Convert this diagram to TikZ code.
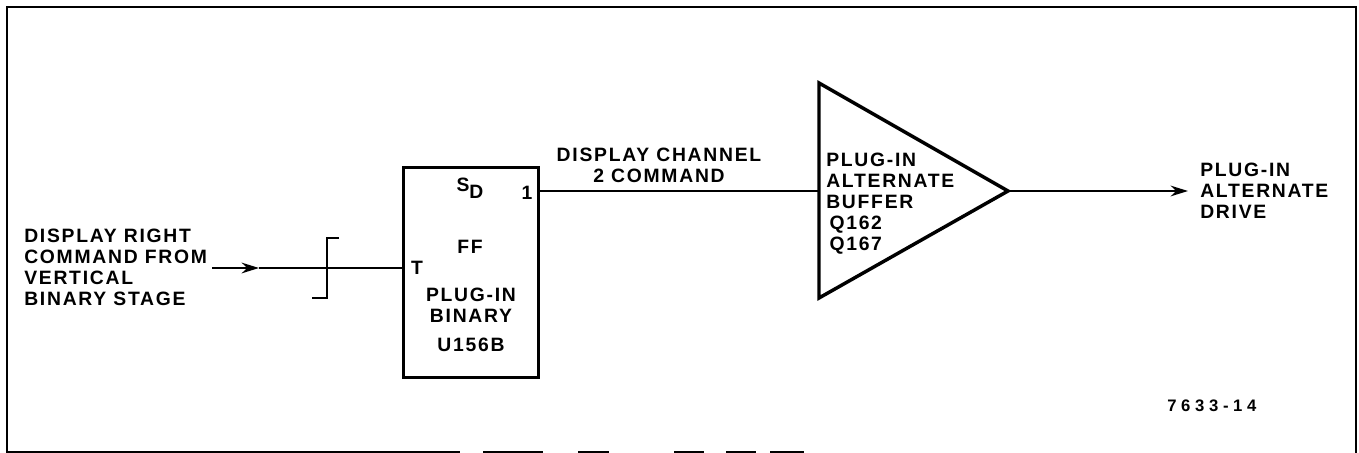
\documentclass[tikz,border=0pt]{standalone}
\usepackage{fontspec}
\setmainfont[LetterSpace=9]{Liberation Sans}
\usetikzlibrary{positioning,arrows.meta,calc}
\newlength{\pxu}
\setlength{\pxu}{0.75pt}
\tikzset{
  bloc/.style     = {draw, line width=2.2pt, minimum width=135\pxu, minimum height=210\pxu},
  eticheta/.style = {font=\fontsize{14.5}{15.75}\selectfont\bfseries, inner sep=0pt, align=left},
  sageata/.style  = {-{Stealth[length=13pt,width=8pt]}, line width=1.7pt},
  fir/.style      = {line width=1.7pt},
  cadru/.style    = {line width=1.5pt},
  triunghi/.style = {line width=2.6pt, line join=miter}
}
\begin{document}
\begin{tikzpicture}[x=0.75pt,y=-0.75pt]
    \useasboundingbox (0,0) rectangle (1359,453);
    \draw[cadru] (7,453) -- (7,7) -- (1356,7) -- (1356,453);
    \draw[cadru] (7,452) -- (460,452) (483,452) -- (543,452) (578,452) -- (609,452)
        (674,452) -- (704,452) (726,452) -- (756,452) (770,452) -- (804,452);

    \node[bloc, anchor=north west] (ff) at (402,166) {};
    \coordinate (bufsus) at (819,83);
    \coordinate (bufjos) at (819,298);
    \coordinate (buftip) at (1008,191);
    \coordinate (bufin) at (819,191);
    \coordinate (start) at (212,268);
    \coordinate (mijloc) at (259,268);
    \coordinate (end) at (1188,191);
    \draw[triunghi] (bufsus) -- (buftip) -- (bufjos) -- cycle;

    \draw[sageata] (start) -- (mijloc);
    \draw[fir] (mijloc) -- (ff.west |- mijloc);
    \draw[fir] (ff.east |- bufin) -- (bufin);
    \draw[sageata] (buftip) -- (end);
    \draw[fir, line width=1.9pt] (339,238) -- (327,238) -- (327,298) -- (312,298);

    \node[eticheta, anchor=west] (intrare) at (24,267) {DISPLAY RIGHT\\COMMAND FROM\\VERTICAL\\BINARY STAGE};
    \node[eticheta] (t) at (417,268) {T};
    \node[eticheta] (sd) at (470,188) {S\raisebox{-5pt}{D}};
    \node[eticheta] (unu) at (527,193) {1};
    \node[eticheta] (ffl) at (470,247) {FF};
    \node[eticheta] (nume) at (471,295) {PLUG-IN};
    \node[eticheta] (binar) at (471,316) {BINARY};
    \node[eticheta] (cod) at (471,345) {U156B};
    \node[eticheta, align=center] (canal) at (659,165.5) {DISPLAY CHANNEL\\2 COMMAND};
    \node[eticheta, anchor=west] (tampon) at (826,204) {PLUG-IN\\ALTERNATE\\BUFFER\\\,Q162\\\,Q167};
    \node[eticheta, anchor=west] (iesire) at (1200,191) {PLUG-IN\\ALTERNATE\\DRIVE};
    \node[eticheta, anchor=west, font=\fontsize{12.5}{14}\selectfont\bfseries\addfontfeatures{LetterSpace=28}] (figura) at (1167,406) {7633-14};
\end{tikzpicture}
\end{document}
